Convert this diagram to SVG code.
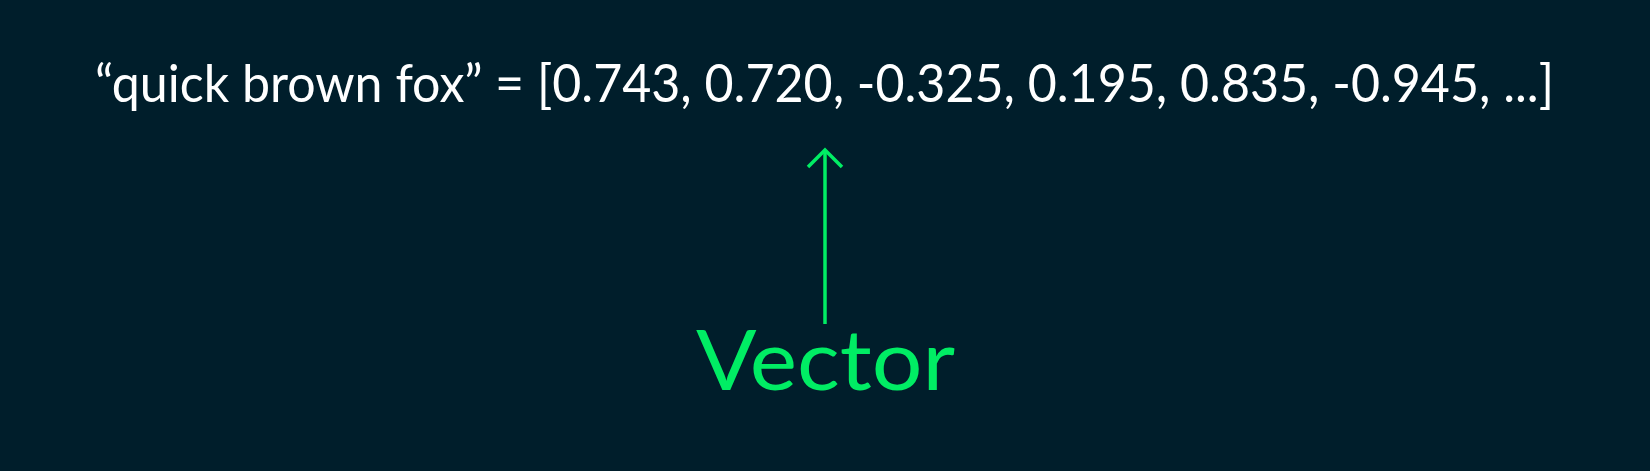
<svg xmlns="http://www.w3.org/2000/svg" width="1650" height="471" viewBox="0 0 1650 471">
  <defs>
    <style>
      .bg { fill: #001E2B; }
      .main { font-family: "Lato", "Liberation Sans", sans-serif; fill: #FFFFFF; font-size: 52px; }
      .label { font-family: "Lato", "Liberation Sans", sans-serif; fill: #00ED64; font-size: 84px; }
      .conn { stroke: #00ED64; stroke-width: 3.5; fill: none; stroke-linecap: butt; stroke-linejoin: miter; }
    </style>
  </defs>
  <rect class="bg" x="0" y="0" width="1650" height="471"/>
  <g id="embedding">
    <text class="main" x="95" y="102" textLength="1459" lengthAdjust="spacingAndGlyphs">“quick brown fox” = [0.743, 0.720, -0.325, 0.195, 0.835, -0.945, ...]</text>
  </g>
  <g id="vector">
    <text class="label" x="696" y="390" textLength="259" lengthAdjust="spacingAndGlyphs">Vector</text>
  </g>
  <g id="connectors">
    <line class="conn" x1="825" y1="324" x2="825" y2="150"/>
    <polyline class="conn" points="808,167 825,150 842,167"/>
  </g>
</svg>
